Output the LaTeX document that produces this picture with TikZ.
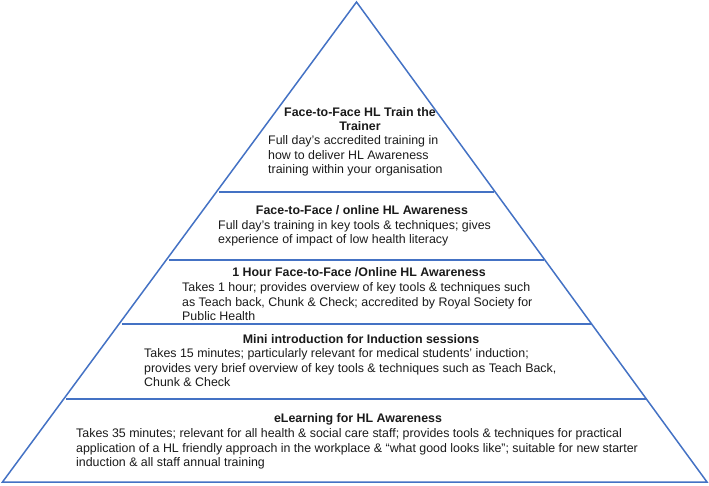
\documentclass[tikz,border=0pt]{standalone}
\usepackage{fontspec}
\setmainfont{Liberation Sans}
\definecolor{pyrblue}{HTML}{4472C4}
\definecolor{txt}{HTML}{1A1A1A}
\begin{document}
\begin{tikzpicture}[x=1pt,y=-1pt,
  edge/.style={draw=pyrblue,line width=1.5pt},
  tierline/.style={draw=pyrblue,line width=1.5pt},
  ttl/.style={font=\fontsize{12.4}{14.5}\selectfont\bfseries,text=txt,inner sep=0pt,anchor=base,align=center},
  bodytxt/.style={font=\fontsize{12.4}{14.5}\selectfont,text=txt,inner sep=0pt,anchor=base west,align=left}]
\useasboundingbox (0,0) rectangle (709,485);
\coordinate (apex) at (356.5,2);
\coordinate (bl) at (2.5,482);
\coordinate (br) at (707,482);
\draw[edge,line join=miter] (apex) -- (br) -- (bl) -- cycle;
% tier separators
\coordinate (l1a) at (219,192); \coordinate (l1b) at (494,192);
\coordinate (l2a) at (169,260); \coordinate (l2b) at (544,260);
\coordinate (l3a) at (122,324); \coordinate (l3b) at (591,324);
\coordinate (l4a) at (66,399);  \coordinate (l4b) at (646,399);
\draw[tierline] (l1a) -- (l1b);
\draw[tierline] (l2a) -- (l2b);
\draw[tierline] (l3a) -- (l3b);
\draw[tierline] (l4a) -- (l4b);
% tier 1 (anchors are at the baseline of the last line)
\node[ttl] (t1) at (360,130.5) {Face-to-Face HL Train the\\Trainer};
\node[bodytxt] (b1) at (268,173.5) {Full day’s accredited training in\\how to deliver HL Awareness\\training within your organisation};
% tier 2
\node[ttl] (t2) at (362,214) {Face-to-Face / online HL Awareness};
\node[bodytxt] (b2) at (218,243.5) {Full day’s training in key tools \& techniques; gives\\experience of impact of low health literacy};
% tier 3
\node[ttl] (t3) at (359,276.5) {1 Hour Face-to-Face /Online HL Awareness};
\node[bodytxt] (b3) at (182,320.5) {Takes 1 hour; provides overview of key tools \& techniques such\\as Teach back, Chunk \& Check; accredited by Royal Society for\\Public Health};
% tier 4
\node[ttl] (t4) at (361,343.5) {Mini introduction for Induction sessions};
\node[bodytxt] (b4) at (144,386.5) {Takes 15 minutes; particularly relevant for medical students’ induction;\\provides very brief overview of key tools \& techniques such as Teach Back,\\Chunk \& Check};
% tier 5
\node[ttl] (t5) at (358,422.5) {eLearning for HL Awareness};
\node[bodytxt] (b5) at (76,466.5) {Takes 35 minutes; relevant for all health \& social care staff; provides tools \& techniques for practical\\application of a HL friendly approach in the workplace \& “what good looks like”; suitable for new starter\\induction \& all staff annual training};
\end{tikzpicture}
\end{document}
